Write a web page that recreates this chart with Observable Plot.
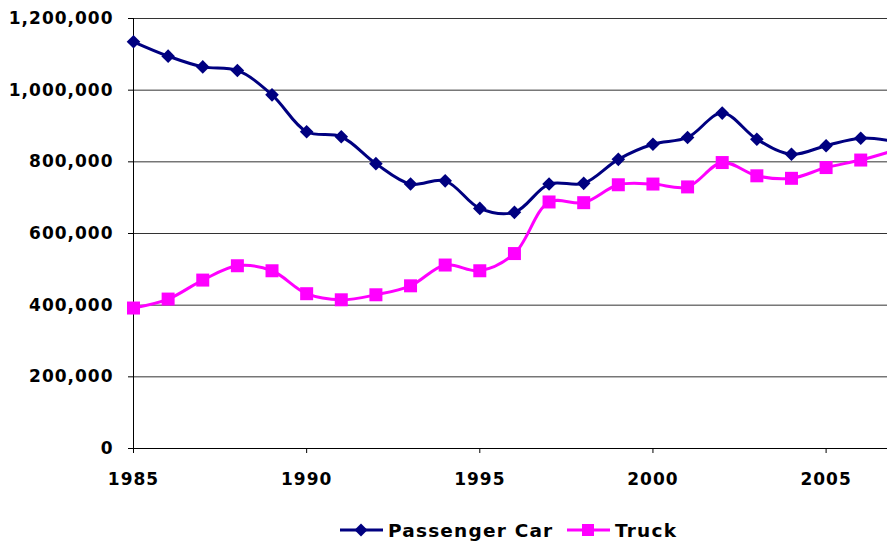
<!DOCTYPE html>
<html>
<head>
<meta charset="utf-8">
<script src="https://cdn.jsdelivr.net/npm/d3@7"></script>
<script src="https://cdn.jsdelivr.net/npm/@observablehq/plot@0.6"></script>
<style>
  html, body { margin: 0; padding: 0; background: #fff; overflow: hidden; }
  #wrap { position: relative; width: 887px; height: 546px; }
  #chart svg { overflow: hidden; }
  #chart svg text { letter-spacing: 1px; }
  .leg { position: absolute; top: 517px; height: 26px; display: flex; align-items: center;
         font-family: "DejaVu Sans", sans-serif; font-weight: bold; font-size: 18.5px; letter-spacing: 1.2px; color: #000; }
  .leg svg { display: block; margin-right: 5px; }
</style>
</head>
<body>
<div id="wrap">
  <div id="chart"></div>
  <div id="legend"></div>
</div>
<script>
const years = [1985, 1986, 1987, 1988, 1989, 1990, 1991, 1992, 1993, 1994, 1995, 1996,
               1997, 1998, 1999, 2000, 2001, 2002, 2003, 2004, 2005, 2006, 2007];
const passengerCar = [1135000, 1095000, 1065000, 1055000, 987000, 884000, 870000, 795000,
                      738000, 747000, 670000, 659000, 738000, 740000, 807000, 849000,
                      868000, 936000, 863000, 821000, 845000, 866000, 856000];
const truck = [392000, 417000, 470000, 510000, 496000, 432000, 415000, 429000,
               454000, 512000, 496000, 544000, 688000, 686000, 736000, 738000,
               730000, 798000, 761000, 754000, 784000, 805000, 833000];
const seriesNames = ["Passenger Car", "Truck"];
const seriesColors = ["#000080", "#FF00FF"];
const xTicks = [1985, 1990, 1995, 2000, 2005];
const yTicks = [0, 200000, 400000, 600000, 800000, 1000000, 1200000];

const carData = years.map((year, i) => ({year, value: passengerCar[i]}));
const truckData = years.map((year, i) => ({year, value: truck[i]}));

const diamondSym = {draw(ctx) { const h = 6.8; ctx.moveTo(0, -h); ctx.lineTo(h, 0); ctx.lineTo(0, h); ctx.lineTo(-h, 0); ctx.closePath(); }};
const squareSym = {draw(ctx) { const h = 6.5; ctx.rect(-h, -h, 2 * h, 2 * h); }};

const W = 887, H = 495;
const marginLeft = 133, marginTop = 18, marginBottom = H - 448;
const pxPerYear = 34.63;
const xMax = 1985 + (W - marginLeft) / pxPerYear;

const chart = Plot.plot({
  width: W,
  height: H,
  marginLeft,
  marginRight: 0,
  marginTop,
  marginBottom,
  style: {fontFamily: "DejaVu Sans, sans-serif", fontSize: "17px", fontWeight: "bold", color: "#000", background: "#fff", overflow: "hidden"},
  x: {domain: [1985, xMax], ticks: xTicks, tickFormat: d => String(d), tickSize: 5, tickPadding: 19, label: null},
  y: {domain: [0, 1200000], ticks: yTicks, tickFormat: d3.format(","), tickSize: 5, tickPadding: 15, label: null},
  marks: [
    Plot.ruleY(yTicks.filter(d => d > 0), {stroke: "#333", strokeWidth: 1}),
    Plot.ruleX([1985], {y1: 0, y2: 1200000, stroke: "#000", strokeWidth: 1}),
    Plot.ruleY([0], {stroke: "#000", strokeWidth: 1}),
    Plot.line(carData, {x: "year", y: "value", stroke: seriesColors[0], strokeWidth: 3, curve: "catmull-rom"}),
    Plot.line(truckData, {x: "year", y: "value", stroke: seriesColors[1], strokeWidth: 3, curve: "catmull-rom"}),
    Plot.dot(carData, {x: "year", y: "value", symbol: diamondSym, fill: seriesColors[0], stroke: "none"}),
    Plot.dot(truckData, {x: "year", y: "value", symbol: squareSym, fill: seriesColors[1], stroke: "none"})
  ]
});
document.getElementById("chart").appendChild(chart);

// Legend
const legend = document.getElementById("legend");
const legendLeft = [340, 567];
seriesNames.forEach((name, i) => {
  const item = document.createElement("div");
  item.className = "leg";
  item.style.left = legendLeft[i] + "px";
  const marker = i === 0
    ? `<path d="M21,-6.5 L27.5,0 L21,6.5 L14.5,0 Z" transform="translate(0,13)" fill="${seriesColors[i]}"/>`
    : `<rect x="15" y="7" width="12" height="12" fill="${seriesColors[i]}"/>`;
  item.innerHTML = `<svg width="43" height="26"><line x1="0" x2="43" y1="13" y2="13" stroke="${seriesColors[i]}" stroke-width="3"/>${marker}</svg><span>${name}</span>`;
  legend.appendChild(item);
});
</script>
</body>
</html>
